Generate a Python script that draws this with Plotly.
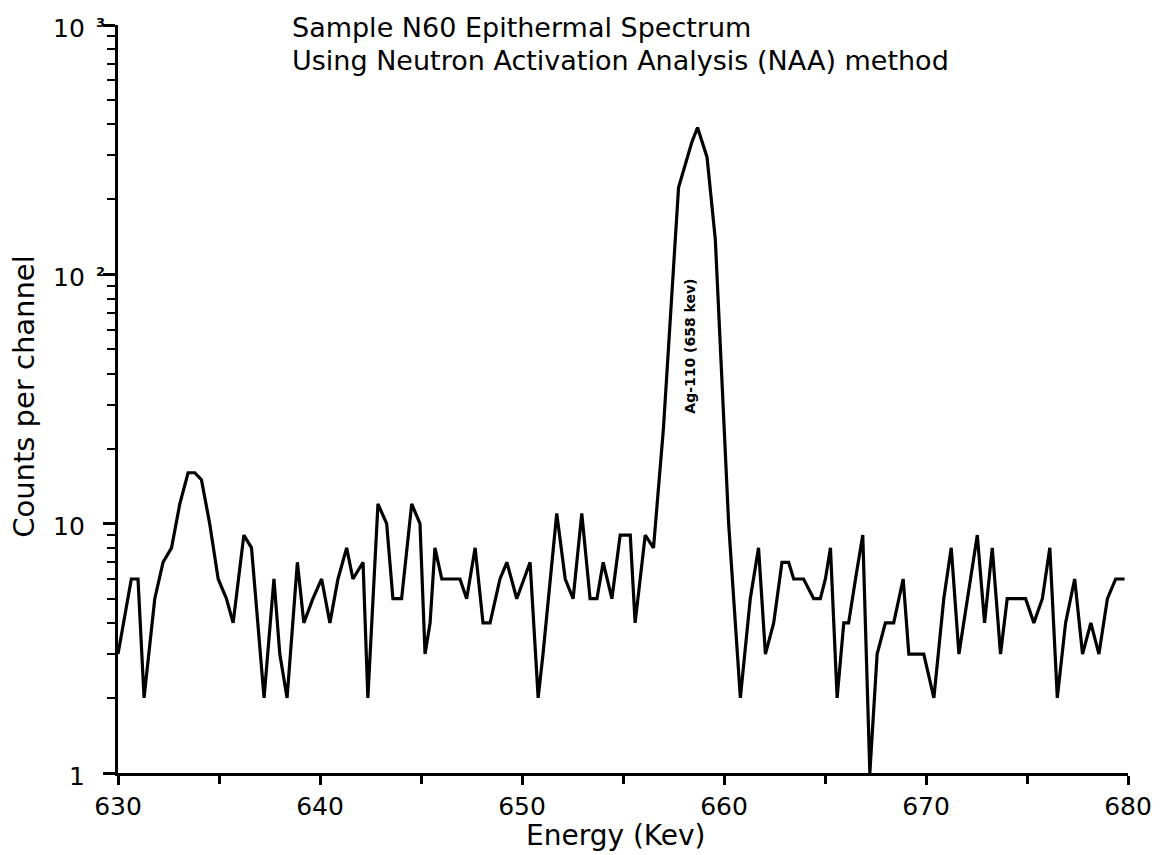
import math
import plotly.graph_objects as go

# Energy (keV) of each channel vertex
energy_kev = [
    630.00, 630.66, 630.99, 631.29, 631.82, 632.23, 632.65, 633.06, 633.47, 633.80,
    634.13, 634.54, 634.96, 635.37, 635.70, 636.23, 636.61, 637.23, 637.72, 638.01,
    638.37, 638.88, 639.20, 639.65, 640.08, 640.49, 640.89, 641.32, 641.63, 642.13,
    642.37, 642.87, 643.30, 643.61, 644.04, 644.54, 644.95, 645.20, 645.45, 645.69,
    646.03, 646.93, 647.26, 647.68, 648.07, 648.42, 648.91, 649.25, 649.74, 650.40,
    650.80, 651.04, 651.72, 652.14, 652.53, 652.96, 653.37, 653.71, 654.02, 654.45,
    654.86, 655.36, 655.60, 656.10, 656.51, 657.00, 657.75, 658.41, 658.69, 659.16,
    659.57, 660.23, 660.81, 661.30, 661.71, 662.05, 662.46, 662.87, 663.20, 663.45,
    663.94, 664.44, 664.77, 665.02, 665.27, 665.60, 665.93, 666.17, 666.51, 666.87,
    667.22, 667.58, 667.99, 668.40, 668.87, 669.15, 669.89, 670.39, 670.88, 671.25,
    671.63, 672.04, 672.54, 672.90, 673.28, 673.69, 674.02, 674.93, 675.34, 675.76,
    676.13, 676.50, 676.91, 677.36, 677.75, 678.16, 678.56, 678.98, 679.39, 679.83,
]

counts = [
    3, 6, 6, 2, 5, 7, 8, 12, 16, 16,
    15, 10, 6, 5, 4, 9, 8, 2, 6, 3,
    2, 7, 4, 5, 6, 4, 6, 8, 6, 7,
    2, 12, 10, 5, 5, 12, 10, 3, 4, 8,
    6, 6, 5, 8, 4, 4, 6, 7, 5, 7,
    2, 3, 11, 6, 5, 11, 5, 5, 7, 5,
    9, 9, 4, 9, 8, 24, 223, 339, 388, 295,
    138, 10, 2, 5, 8, 3, 4, 7, 7, 6,
    6, 5, 5, 6, 8, 2, 4, 4, 6, 9,
    1, 3, 4, 4, 6, 3, 3, 2, 5, 8,
    3, 5, 9, 4, 8, 3, 5, 5, 4, 5,
    8, 2, 4, 6, 3, 4, 3, 5, 6, 6,
]

x_ticks = [630, 640, 650, 660, 670, 680]
y_ticks = [1, 10, 100, 1000]
# y tick labels: mantissa text and (optional) exponent, one per decade
y_tick_base = ["1", "10", "10", "10"]
y_tick_exp = ["", "", "2", "3"]

title_lines = ["Sample N60 Epithermal Spectrum",
               "Using Neutron Activation Analysis (NAA) method"]
x_title = "Energy (Kev)"
y_title = "Counts per channel"
peak_label = "Ag-110 (658 kev)"
peak_label_energy = 658.32
peak_label_log_count = 1.71

FONT = "DejaVu Sans"

fig = go.Figure()
fig.add_trace(go.Scatter(
    x=energy_kev, y=counts, mode="lines",
    line=dict(color="black", width=3.2),
    hoverinfo="skip", showlegend=False,
))

fig.update_layout(
    width=1165, height=855,
    margin=dict(l=118, r=37, t=25, b=82),
    paper_bgcolor="white", plot_bgcolor="white",
    font=dict(family=FONT, color="black", size=22),
    showlegend=False,
)

fig.update_xaxes(
    range=[630, 680], tickmode="array", tickvals=x_ticks,
    ticks="outside", ticklen=9, tickwidth=2.5, tickcolor="black",
    showline=True, linecolor="black", linewidth=3,
    showgrid=False, zeroline=False,
    tickfont=dict(family=FONT, size=25),
    minor=dict(ticks="outside", ticklen=8, tickwidth=2.5, tickcolor="black", dtick=5, showgrid=False),
)
fig.update_yaxes(
    type="log", range=[0, 3], tickmode="array", tickvals=y_ticks,
    showticklabels=False,
    ticks="outside", ticklen=12, tickwidth=2.5, tickcolor="black",
    showline=True, linecolor="black", linewidth=3,
    showgrid=False, zeroline=False,
    minor=dict(ticks="outside", ticklen=8, tickwidth=2, tickcolor="black", dtick="D1", showgrid=False),
)

annotations = [
    dict(text=title_lines[0], xref="paper", yref="paper", x=0.170, y=0.996,
         xanchor="left", yanchor="middle", showarrow=False, font=dict(family=FONT, size=27)),
    dict(text=title_lines[1], xref="paper", yref="paper", x=0.170, y=0.952,
         xanchor="left", yanchor="middle", showarrow=False, font=dict(family=FONT, size=27)),
    dict(text=x_title, xref="paper", yref="paper", x=0.493, y=-0.0842,
         xanchor="center", yanchor="middle", showarrow=False, font=dict(family=FONT, size=28)),
    dict(text=y_title, xref="paper", yref="paper", x=-0.093, y=0.503,
         xanchor="center", yanchor="middle", textangle=-90, showarrow=False,
         font=dict(family=FONT, size=29)),
    dict(text="<b>" + peak_label + "</b>", xref="x", yref="y",
         x=peak_label_energy, y=peak_label_log_count,
         xanchor="center", yanchor="middle", textangle=-90, showarrow=False,
         font=dict(family=FONT, size=14)),
]

# y tick labels drawn as text next to the axis (mantissa + raised exponent)
for val, base, exp in zip(y_ticks, y_tick_base, y_tick_exp):
    annotations.append(dict(
        text=base, xref="paper", yref="y", x=-0.031, y=math.log10(val),
        xanchor="right", yanchor="middle", yshift=-3, showarrow=False,
        font=dict(family=FONT, size=25)))
    if exp:
        annotations.append(dict(
            text="<b>" + exp + "</b>", xref="paper", yref="y", x=-0.017, y=math.log10(val),
            xanchor="center", yanchor="middle", yshift=3, showarrow=False,
            font=dict(family=FONT, size=13)))

fig.update_layout(annotations=annotations)

fig.write_html("out.html")
